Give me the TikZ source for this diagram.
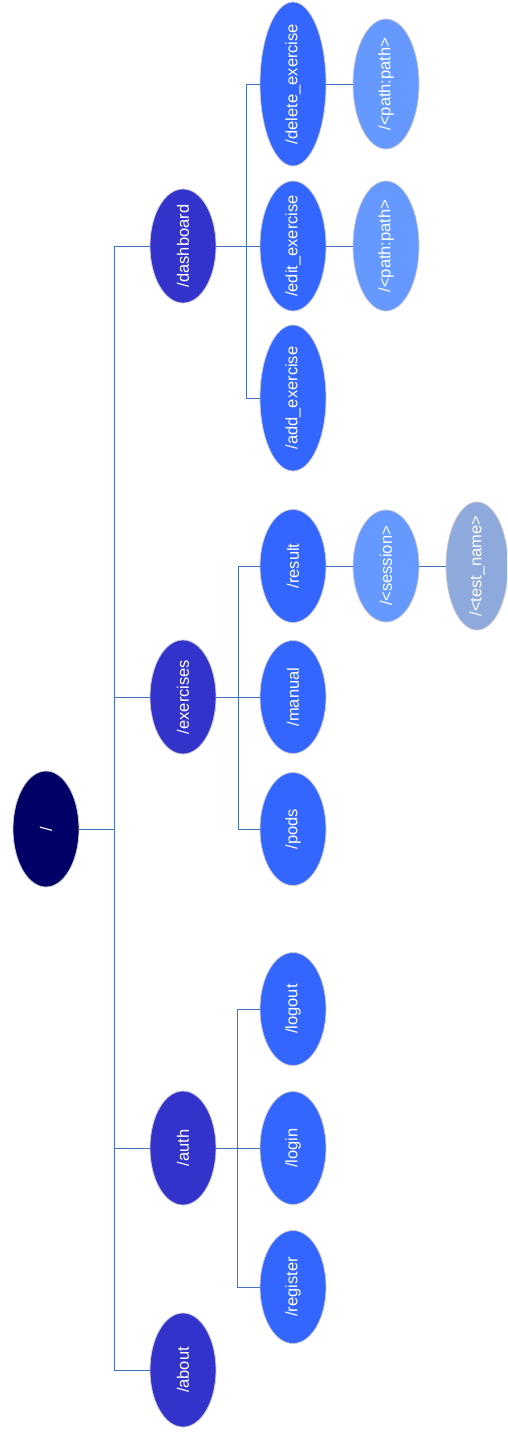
\documentclass[tikz,border=0pt]{standalone}
\usepackage{fontspec}
\setmainfont{Liberation Sans}
\usetikzlibrary{shapes.geometric}
\definecolor{lvlzero}{HTML}{000066}
\definecolor{lvlone}{HTML}{3333CC}
\definecolor{lvltwo}{HTML}{3366FF}
\definecolor{lvlthree}{HTML}{6699FF}
\definecolor{lvlfour}{HTML}{8EA9DB}
\definecolor{wire}{HTML}{4472C4}
\definecolor{rim}{HTML}{C8C8D0}
% zero-width label so the ellipse size comes only from the minimum sizes
\newcommand{\rlabel}[1]{\makebox[0pt]{#1}}
\tikzset{
  route/.style={ellipse, rotate=90, draw=rim, line width=0.8pt, text=white,
    inner sep=0pt, font=\fontsize{16.5}{18}\selectfont, minimum height=66pt},
  wireline/.style={draw=wire, line width=1pt},
}
\begin{document}
\begin{tikzpicture}[x=1pt, y=-1pt]
\useasboundingbox (0,0) rectangle (507,1432);
\begin{scope}
\clip (0,0) rectangle (507,1432);
% root
\node[route, fill=lvlzero, minimum width=116pt] (root) at (46,829) {\rlabel{/}};
% first level
\node[route, fill=lvlone, minimum width=114pt] (dashboard) at (183,246) {\rlabel{/dashboard}};
\node[route, fill=lvlone, minimum width=114pt] (exercises) at (183,697) {\rlabel{/exercises}};
\node[route, fill=lvlone, minimum width=114pt] (auth) at (183,1148) {\rlabel{/auth}};
\node[route, fill=lvlone, minimum width=114pt] (about) at (183,1370) {\rlabel{/about}};
% dashboard children
\node[route, fill=lvltwo, minimum width=164pt] (delete) at (293,84) {\rlabel{/delete\_exercise}};
\node[route, fill=lvltwo, minimum width=130pt] (edit) at (293,246) {\rlabel{/edit\_exercise}};
\node[route, fill=lvltwo, minimum width=146pt] (add) at (293,398) {\rlabel{/add\_exercise}};
% exercises children
\node[route, fill=lvltwo, minimum width=113pt] (result) at (293,566) {\rlabel{/result}};
\node[route, fill=lvltwo, minimum width=113pt] (manual) at (293,697) {\rlabel{/manual}};
\node[route, fill=lvltwo, minimum width=113pt] (pods) at (293,829) {\rlabel{/pods}};
% auth children
\node[route, fill=lvltwo, minimum width=113pt] (logout) at (293,1009) {\rlabel{/logout}};
\node[route, fill=lvltwo, minimum width=113pt] (login) at (293,1148) {\rlabel{/login}};
\node[route, fill=lvltwo, minimum width=113pt] (register) at (293,1287) {\rlabel{/register}};
% third level
\node[route, fill=lvlthree, minimum width=130pt] (pathA) at (386,84) {\rlabel{/<path:path>}};
\node[route, fill=lvlthree, minimum width=130pt] (pathB) at (386,246) {\rlabel{/<path:path>}};
\node[route, fill=lvlthree, minimum width=112pt] (session) at (386,566) {\rlabel{/<session>}};
% fourth level
\node[route, fill=lvlfour, minimum width=128pt, minimum height=62pt] (testname) at (477,566) {\rlabel{/<test\_name>}};

% junction points
\coordinate (trunk) at (114,829);
\coordinate (jdash) at (246,246);
\coordinate (jex) at (238,697);
\coordinate (jauth) at (237,1148);

% connectors, each stopping at the node borders
\draw[wireline] (root) -- (trunk);
\draw[wireline] (trunk) |- (dashboard);
\draw[wireline] (trunk) |- (exercises);
\draw[wireline] (trunk) |- (auth);
\draw[wireline] (trunk) |- (about);

\draw[wireline] (dashboard) -- (jdash);
\draw[wireline] (jdash) |- (delete);
\draw[wireline] (jdash) -- (edit);
\draw[wireline] (jdash) |- (add);

\draw[wireline] (exercises) -- (jex);
\draw[wireline] (jex) |- (result);
\draw[wireline] (jex) -- (manual);
\draw[wireline] (jex) |- (pods);

\draw[wireline] (auth) -- (jauth);
\draw[wireline] (jauth) |- (logout);
\draw[wireline] (jauth) -- (login);
\draw[wireline] (jauth) |- (register);

\draw[wireline] (delete) -- (pathA);
\draw[wireline] (edit) -- (pathB);
\draw[wireline] (result) -- (session);
\draw[wireline] (session) -- (testname);
\end{scope}
\end{tikzpicture}
\end{document}
